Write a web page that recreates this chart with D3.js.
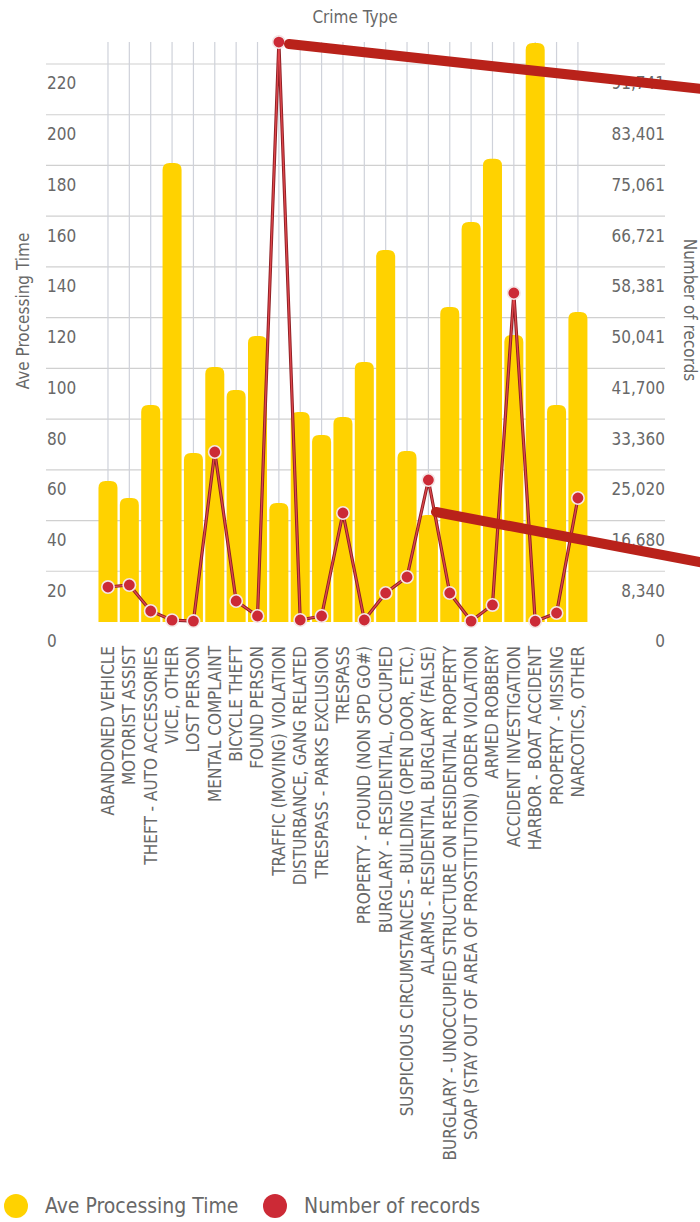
<!DOCTYPE html>
<html>
<head>
<meta charset="utf-8">
<script src="https://cdn.jsdelivr.net/npm/d3@7"></script>
<style>
	body { margin: 0; background: #fff; }
	svg text { font-family: "Liberation Sans Narrow", "DejaVu Sans Condensed", "Roboto Condensed", "Open Sans", sans-serif; font-stretch: condensed; fill: #686868; }
</style>
</head>
<body>
<div id="main"></div>
<script>
var crimeTypes = [
	"ABANDONED VEHICLE", "MOTORIST ASSIST", "THEFT - AUTO ACCESSORIES", "VICE, OTHER",
	"LOST PERSON", "MENTAL COMPLAINT", "BICYCLE THEFT", "FOUND PERSON",
	"TRAFFIC (MOVING) VIOLATION", "DISTURBANCE, GANG RELATED", "TRESPASS - PARKS EXCLUSION", "TRESPASS",
	"PROPERTY - FOUND (NON SPD GO#)", "BURGLARY - RESIDENTIAL, OCCUPIED",
	"SUSPICIOUS CIRCUMSTANCES - BUILDING (OPEN DOOR, ETC.)", "ALARMS - RESIDENTIAL BURGLARY (FALSE)",
	"BURGLARY - UNOCCUPIED STRUCTURE ON RESIDENTIAL PROPERTY", "SOAP (STAY OUT OF AREA OF PROSTITUTION) ORDER VIOLATION",
	"ARMED ROBBERY", "ACCIDENT INVESTIGATION", "HARBOR - BOAT ACCIDENT", "PROPERTY - MISSING", "NARCOTICS, OTHER"
];
var aveTime = [55.6, 48.9, 85.6, 181, 66.6, 100.5, 91.5, 112.8, 46.9, 82.8, 73.7, 80.8,
	102.5, 146.7, 67.4, 42.2, 124.2, 157.7, 182.6, 113.2, 228.3, 85.6, 122.2];
var numRecords = [5750, 6080, 1810, 300, 150, 27950, 3450, 990, 95350, 330, 990, 17920,
	330, 4770, 7400, 23350, 4770, 150, 2800, 54090, 120, 1480, 20390];
var timeTicks = [0, 20, 40, 60, 80, 100, 120, 140, 160, 180, 200, 220];
var recordTicks = [0, 8340, 16680, 25020, 33360, 41700, 50041, 58381, 66721, 75061, 83401, 91741];

var W = 700, H = 1222;
var plotTop = 64, plotBase = 622;

function barPath(x, y, w, h, r){
	r = Math.min(r, h, w / 2);
	return "M" + x + "," + (y + h) + "V" + (y + r) +
		"Q" + x + "," + y + " " + (x + r) + "," + y +
		"H" + (x + w - r) +
		"Q" + (x + w) + "," + y + " " + (x + w) + "," + (y + r) +
		"V" + (y + h) + "Z";
}

window.onload = function(){
	var svg = d3.select("#main").append("svg").attr("width", W).attr("height", H);

	var x = d3.scaleBand().domain(crimeTypes).range([97.3, 588.6]).paddingInner(0.11).paddingOuter(0.055);
	var yL = d3.scaleLinear().domain([0, 220]).range([plotBase, plotTop]);
	var yR = d3.scaleLinear().domain([0, 91741]).range([plotBase, plotTop]);
	var cx = function(d){ return x(d) + x.bandwidth() / 2; };

	// grid
	svg.append("g").selectAll("line").data(timeTicks.slice(1))
		.enter().append("line")
		.attr("x1", 46).attr("x2", 665)
		.attr("y1", function(d){ return yL(d); }).attr("y2", function(d){ return yL(d); })
		.attr("stroke", "#d0d0d0").attr("stroke-width", 1.2);
	svg.append("g").selectAll("line").data(crimeTypes)
		.enter().append("line")
		.attr("x1", cx).attr("x2", cx)
		.attr("y1", 42).attr("y2", plotBase)
		.attr("stroke", "#cfd2da").attr("stroke-width", 1.2);

	// bars
	svg.append("g").selectAll("path").data(aveTime)
		.enter().append("path")
		.attr("d", function(d, i){
			return barPath(x(crimeTypes[i]), yL(d), x.bandwidth(), plotBase - yL(d), 7);
		})
		.attr("fill", "#ffd200");

	// axes labels
	var leftAxis = d3.axisLeft(yL).tickValues(timeTicks).tickSize(0).tickFormat(d3.format("d"));
	var gl = svg.append("g").attr("transform", "translate(47,19.5)").call(leftAxis);
	gl.select(".domain").remove();
	gl.selectAll("text").attr("text-anchor", "start").attr("x", 0)
		.style("font-size", "17px").attr("fill", "#686868");

	var rightAxis = d3.axisRight(yR).tickValues(recordTicks).tickSize(0).tickFormat(d3.format(","));
	var gr = svg.append("g").attr("transform", "translate(665,19.5)").call(rightAxis);
	gr.select(".domain").remove();
	gr.selectAll("text").attr("text-anchor", "end").attr("x", 0)
		.style("font-size", "17px").attr("fill", "#686868");

	// x labels
	svg.append("g").selectAll("text").data(crimeTypes)
		.enter().append("text")
		.attr("transform", function(d){ return "translate(" + cx(d) + ",646) rotate(-90)"; })
		.attr("text-anchor", "end").attr("dy", "0.35em")
		.style("font-size", "17px")
		.text(function(d){ return d; });

	// records line
	var line = d3.line()
		.x(function(d, i){ return cx(crimeTypes[i]); })
		.y(function(d){ return yR(d); });
	svg.append("path").datum(numRecords)
		.attr("d", line).attr("fill", "none")
		.attr("stroke", "#8e1f24").attr("stroke-width", 3.2);
	svg.append("path").datum(numRecords)
		.attr("d", line).attr("fill", "none")
		.attr("stroke", "#e0474d").attr("stroke-width", 1.3);
	svg.append("g").selectAll("circle").data(numRecords)
		.enter().append("circle")
		.attr("cx", function(d, i){ return cx(crimeTypes[i]); })
		.attr("cy", function(d){ return yR(d); })
		.attr("r", 6.2)
		.attr("fill", "#cc2a36").attr("stroke", "#f4e6e6").attr("stroke-width", 1.6);

	// titles
	svg.append("text").attr("x", 355).attr("y", 23).attr("text-anchor", "middle")
		.style("font-size", "17px").text("Crime Type");
	svg.append("text").attr("transform", "translate(23,311) rotate(-90)")
		.attr("text-anchor", "middle").attr("dy", "0.35em")
		.style("font-size", "17px").text("Ave Processing Time");
	svg.append("text").attr("transform", "translate(690,310) rotate(90)")
		.attr("text-anchor", "middle").attr("dy", "0.35em")
		.style("font-size", "17px").text("Number of records");

	// callout strokes
	var callouts = [[289, 44, 720, 91], [436, 512, 720, 566]];
	svg.append("g").selectAll("line").data(callouts)
		.enter().append("line")
		.attr("x1", function(d){ return d[0]; }).attr("y1", function(d){ return d[1]; })
		.attr("x2", function(d){ return d[2]; }).attr("y2", function(d){ return d[3]; })
		.attr("stroke", "#b9221a").attr("stroke-width", 10).attr("stroke-linecap", "round");

	// legend
	var legend = [["Ave Processing Time", "#ffd200", 16], ["Number of records", "#cc2a36", 275]];
	var lg = svg.append("g").selectAll("g").data(legend).enter().append("g")
		.attr("transform", function(d){ return "translate(" + d[2] + ",1206)"; });
	lg.append("circle").attr("r", 12).attr("fill", function(d){ return d[1]; });
	lg.append("text").attr("x", 29).attr("dy", "0.35em")
		.style("font-size", "21px").attr("fill", "#8a8a8a")
		.text(function(d){ return d[0]; });
};
</script>
</body>
</html>
